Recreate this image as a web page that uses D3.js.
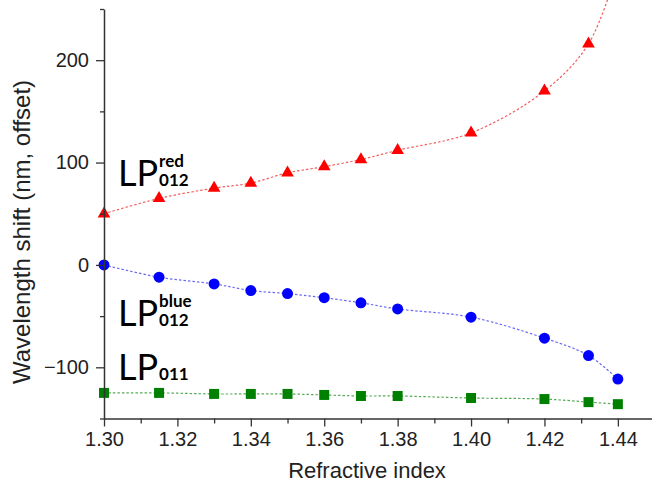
<!DOCTYPE html>
<html>
<head>
<meta charset="utf-8">
<script src="https://cdn.jsdelivr.net/npm/d3@7"></script>
<style>
  body { margin: 0; background: #fff; }
  svg { display: block; }
</style>
</head>
<body>
<svg id="chart" width="652" height="494"></svg>
<script>
// refractive index values (x)
const refIndex = [1.30, 1.315, 1.33, 1.34, 1.35, 1.36, 1.37, 1.38, 1.40, 1.42, 1.432, 1.44]

// wavelength shift (nm, offset) per mode
const redShift = [50, 65, 75, 80, 90, 96, 103, 112, 129, 170, 216, 290] // last point is off scale
const blueShift = [0, -12, -18.5, -25, -28, -32, -37, -43, -51, -71.5, -88.5, -111.5]
const greenShift = [-125, -125, -126, -126, -126, -127, -128, -128, -130, -131, -134, -136]

// axis ticks
const xTicks = [1.30, 1.32, 1.34, 1.36, 1.38, 1.40, 1.42, 1.44]
const xMinorTicks = [1.31, 1.33, 1.35, 1.37, 1.39, 1.41, 1.43]
const yTicks = [-100, 0, 100, 200]
const yMinorTicks = [-150, -50, 50, 150, 250]

// mode labels
const labelMain = ['LP', 'LP', 'LP']
const labelSup = ['red', 'blue', '']
const labelSub = ['012', '012', '011']

const svg = d3.select('#chart')

const x = d3.scaleLinear()
  .domain([1.30, 1.4493])
  .range([104, 652])

const y = d3.scaleLinear()
  .domain([-150, 250])
  .range([418.5, 9])

const axisColor = '#333'
const tickFont = '"Liberation Sans", Arial, sans-serif'

// clip for marks
svg.append('clipPath').attr('id', 'plotClip')
  .append('rect')
  .attr('x', 95).attr('y', 0)
  .attr('width', 560).attr('height', 430)

/**
 * draw x axis with major and minor ticks
 */
function drawXAxis() {
  const gMinor = svg.append('g')
    .attr('transform', `translate(0,${y(-150)})`)
    .call(d3.axisBottom(x).tickValues(xMinorTicks).tickFormat('').tickSizeInner(5).tickSizeOuter(0))
  gMinor.select('.domain').remove()
  gMinor.selectAll('line').attr('stroke', axisColor).attr('stroke-width', 1.3)

  const g = svg.append('g')
    .attr('transform', `translate(0,${y(-150)})`)
    .call(d3.axisBottom(x)
      .tickValues(xTicks)
      .tickFormat(d3.format('.2f'))
      .tickSizeInner(8)
      .tickSizeOuter(0)
      .tickPadding(5))
  g.select('.domain').attr('stroke', axisColor).attr('stroke-width', 1.5)
  g.selectAll('line').attr('stroke', axisColor).attr('stroke-width', 1.3)
  g.selectAll('text')
    .attr('font-family', tickFont)
    .attr('font-size', 20)
    .attr('fill', '#222')
}

/**
 * draw y axis with major and minor ticks
 */
function drawYAxis() {
  const gMinor = svg.append('g')
    .attr('transform', `translate(${x(1.30)},0)`)
    .call(d3.axisLeft(y).tickValues(yMinorTicks).tickFormat('').tickSizeInner(4).tickSizeOuter(0))
  gMinor.select('.domain').remove()
  gMinor.selectAll('line').attr('stroke', axisColor).attr('stroke-width', 1.3)

  const g = svg.append('g')
    .attr('transform', `translate(${x(1.30)},0)`)
    .call(d3.axisLeft(y)
      .tickValues(yTicks)
      .tickSizeInner(8)
      .tickSizeOuter(0)
      .tickPadding(7))
  g.select('.domain').attr('stroke', axisColor).attr('stroke-width', 1.5)
  g.selectAll('line').attr('stroke', axisColor).attr('stroke-width', 1.3)
  g.selectAll('text')
    .attr('font-family', tickFont)
    .attr('font-size', 20)
    .attr('fill', '#222')
}

function drawTitles() {
  svg.append('text')
    .attr('x', 367)
    .attr('y', 478)
    .attr('text-anchor', 'middle')
    .attr('font-family', tickFont)
    .attr('font-size', 22)
    .attr('fill', '#222')
    .text('Refractive index')

  svg.append('text')
    .attr('transform', 'translate(30,232) rotate(-90)')
    .attr('text-anchor', 'middle')
    .attr('font-family', tickFont)
    .attr('font-size', 24)
    .attr('fill', '#222')
    .text('Wavelength shift (nm, offset)')
}

/**
 * dotted smooth line + markers for one series
 */
function drawSeries(values, color, lineColor, symbol, size) {
  const pts = refIndex.map((r, i) => [r, values[i]])
  const g = svg.append('g').attr('clip-path', 'url(#plotClip)')

  const line = d3.line()
    .x(d => x(d[0]))
    .y(d => y(d[1]))
    .curve(d3.curveCatmullRom.alpha(0.5))

  g.append('path')
    .datum(pts)
    .attr('d', line)
    .attr('fill', 'none')
    .attr('stroke', lineColor)
    .attr('stroke-width', 1.2)
    .attr('stroke-dasharray', '2.5,2')

  g.selectAll('path.pt')
    .data(pts.filter(d => d[1] <= 250))
    .enter().append('path')
    .attr('class', 'pt')
    .attr('transform', d => `translate(${x(d[0])},${y(d[1])})`)
    .attr('d', d3.symbol().type(symbol).size(size))
    .attr('fill', color)
}

function drawLabels() {
  const anchorsY = [77.4, -59.4, -112.4]
  const lpFont = 'Lato, "Noto Sans", sans-serif'
  labelMain.forEach((m, i) => {
    const bx = x(1.3038)
    const by = y(anchorsY[i])
    const t = svg.append('text')
      .attr('x', bx).attr('y', by)
      .attr('font-family', lpFont)
      .attr('font-size', 36)
      .attr('fill', '#000')
      .text(m)
    const w = t.node().getComputedTextLength()
    svg.append('text')
      .attr('x', bx + w + 1).attr('y', by)
      .attr('font-family', lpFont)
      .attr('font-weight', 'bold')
      .attr('font-size', 17)
      .attr('fill', '#000')
      .text(labelSub[i])
    if (labelSup[i]) {
      svg.append('text')
        .attr('x', bx + w + 1).attr('y', by - 19)
        .attr('font-family', lpFont)
        .attr('font-weight', 'bold')
        .attr('font-size', 17)
        .attr('fill', '#000')
        .text(labelSup[i])
    }
  })
}

drawSeries(redShift, '#ff0000', '#f26060', d3.symbolTriangle, 70)
drawSeries(blueShift, '#0000ff', '#6a6af0', d3.symbolCircle, 95)
drawSeries(greenShift, '#008000', '#55aa55', d3.symbolSquare, 100)
drawXAxis()
drawYAxis()
drawTitles()
drawLabels()
</script>
</body>
</html>
